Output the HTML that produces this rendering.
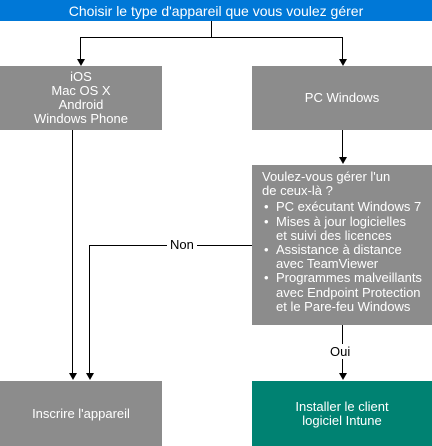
<!DOCTYPE html>
<html><head><style>
body{margin:0;width:432px;height:446px;background:#fff;position:relative;overflow:hidden;font-family:"Liberation Sans",sans-serif;font-size:13px;color:#fff}
.b{position:absolute;display:flex;align-items:center;justify-content:center;text-align:center;line-height:14px;background:#8c8c8c}
.l{position:absolute;background:#000}
.a{position:absolute;width:0;height:0;border-left:4px solid transparent;border-right:4px solid transparent;border-top:7px solid #000}
.t{position:absolute;color:#000;background:#fff;font-size:13px;padding:0 3px}
.li{position:relative;padding-left:14px}
.li:before{content:"•";position:absolute;left:2px}
</style></head><body>
<div class="b" style="left:0;top:0;width:432px;height:21px;background:#0078d7;font-size:14px">Choisir le type d'appareil que vous voulez gérer</div>
<div class="l" style="left:211px;top:21px;width:1px;height:17px"></div>
<div class="l" style="left:80px;top:37px;width:263px;height:1px"></div>
<div class="l" style="left:80px;top:37px;width:1px;height:23px"></div>
<div class="a" style="left:77px;top:59px"></div>
<div class="l" style="left:342px;top:37px;width:1px;height:23px"></div>
<div class="a" style="left:339px;top:59px"></div>
<div class="b" style="left:0;top:66px;width:162px;height:64px">iOS<br>Mac OS X<br>Android<br>Windows Phone</div>
<div class="b" style="left:252px;top:66px;width:180px;height:64px">PC Windows</div>
<div class="l" style="left:342px;top:130px;width:1px;height:28px"></div>
<div class="a" style="left:339px;top:157px"></div>
<div class="b" style="left:252px;top:165px;width:180px;height:160px;display:block;text-align:left;padding:5px 0 0 10px;box-sizing:border-box;line-height:14.2px">Voulez-vous gérer l'un<br>de ceux-là ?
<div style="margin-top:2px">
<div class="li">PC exécutant Windows 7</div>
<div class="li">Mises à jour logicielles<br>et suivi des licences</div>
<div class="li">Assistance à distance<br>avec TeamViewer</div>
<div class="li">Programmes malveillants<br>avec Endpoint Protection<br>et le Pare-feu Windows</div>
</div></div>
<div class="l" style="left:72px;top:130px;width:1px;height:244px"></div>
<div class="a" style="left:69px;top:373px"></div>
<div class="l" style="left:89px;top:245px;width:163px;height:1px"></div>
<div class="t" style="left:167px;top:237px">Non</div>
<div class="l" style="left:89px;top:245px;width:1px;height:129px"></div>
<div class="a" style="left:86px;top:373px"></div>
<div class="l" style="left:342px;top:325px;width:1px;height:49px"></div>
<div class="t" style="left:327px;top:344px">Oui</div>
<div class="a" style="left:339px;top:373px"></div>
<div class="b" style="left:0;top:381px;width:162px;height:65px">Inscrire l'appareil</div>
<div class="b" style="left:252px;top:381px;width:180px;height:65px;background:#008272">Installer le client<br>logiciel Intune</div>
</body></html>
